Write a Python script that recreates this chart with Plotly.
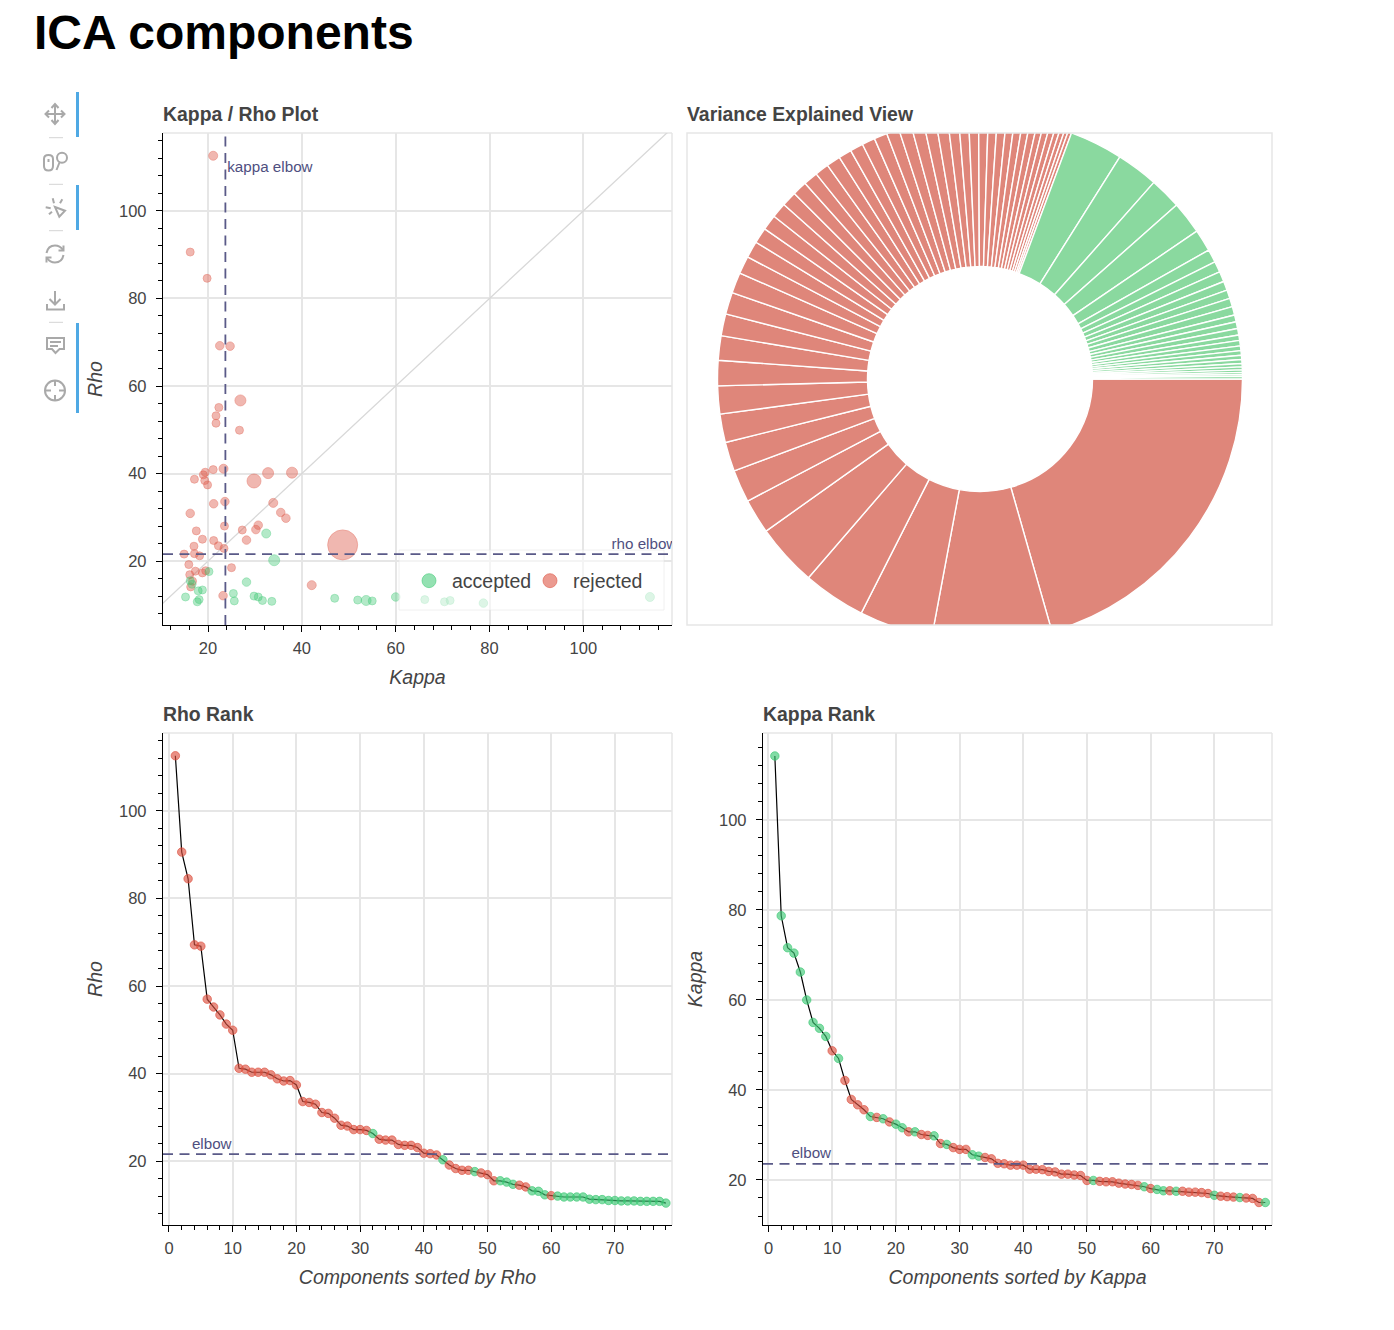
import plotly.graph_objects as go

# --- values
# Kappa / Rho scatter, rejected components
kappa_rej = [21.1, 16.2, 19.8, 22.5, 24.7, 26.9, 22.3, 21.7, 21.7, 26.7, 23.3, 21.1, 19.4, 19.0, 17.1, 19.3, 19.9,
             29.8, 32.8, 37.9, 23.6, 21.2, 33.9, 16.2, 35.5, 36.6, 23.5, 27.3, 30.7, 30.2, 17.5, 18.8, 21.2, 28.2,
             17.0, 22.2, 23.4, 48.7, 14.9, 17.1, 18.2, 15.9, 25.0, 16.1, 17.3, 18.8, 19.5, 16.7, 16.3, 42.1, 23.2]
rho_rej = [112.6, 90.6, 84.6, 69.2, 69.1, 56.7, 55.1, 53.2, 51.5, 49.9, 41.1, 40.9, 40.3, 39.7, 38.7, 38.4, 37.4,
           38.3, 40.1, 40.2, 33.6, 33.1, 33.3, 30.9, 31.1, 29.8, 28.0, 27.1, 28.2, 27.2, 26.9, 25.0, 24.7, 24.8,
           23.4, 23.5, 22.9, 23.7, 21.6, 21.7, 21.2, 19.2, 18.5, 16.9, 17.7, 17.3, 17.8, 15.4, 14.1, 14.5, 12.1]
size_rej = [9, 8, 8, 8.5, 8.5, 11, 8, 8, 8, 8, 9, 8, 8, 8, 8, 8, 8,
            14, 11, 11, 8.5, 8.5, 9, 8.5, 8.5, 8.5, 8, 8, 8.5, 8.5, 8, 8, 8, 8.5,
            8, 8, 8, 30, 8, 8, 8, 8, 8, 8, 8, 8, 8, 8, 8, 9, 8.5]

# Kappa / Rho scatter, accepted components
kappa_acc = [32.4, 34.1, 20.2, 16.2, 16.6, 28.2, 18.8, 17.9, 25.4, 15.2, 29.8, 30.7, 31.6, 25.6, 33.6, 18.1, 17.7,
             47.0, 51.9, 53.7, 55.0, 60.0, 66.2, 70.4, 71.6, 78.7, 114.2]
rho_acc = [26.3, 20.2, 17.6, 15.5, 14.7, 15.2, 13.4, 13.2, 12.6, 11.8, 12.0, 11.8, 11.0, 10.9, 10.8, 11.2, 10.7,
           11.5, 11.1, 11.0, 10.9, 11.8, 11.2, 10.7, 11.0, 10.4, 11.8]
size_acc = [9, 11, 8, 8, 8, 8.5, 8, 8, 8, 8, 8, 8, 8, 8, 8, 8, 8,
            8, 8, 10, 8, 8.5, 8, 8, 8, 8.5, 9]

kappa_elbow = 23.7
rho_elbow = 21.6

# Rank plots
rho_sorted = [112.6, 90.6, 84.5, 69.4, 69.1, 57.0, 55.2, 53.4, 51.3, 49.9, 41.2, 41.0, 40.3, 40.3, 40.3, 39.7, 38.8,
              38.3, 38.4, 37.4, 33.6, 33.4, 33.0, 31.1, 30.9, 29.8, 28.2, 28.0, 27.2, 27.2, 27.0, 26.3, 25.0, 24.8,
              24.8, 23.8, 23.6, 23.6, 23.1, 21.8, 21.7, 21.4, 20.3, 19.1, 18.3, 17.9, 17.9, 17.6, 17.3, 16.9, 15.5,
              15.5, 15.2, 14.7, 14.5, 14.1, 13.2, 13.1, 12.3, 12.1, 12.0, 11.8, 11.8, 11.8, 11.8, 11.3, 11.2, 11.2,
              11.0, 11.0, 10.9, 10.9, 10.9, 10.8, 10.8, 10.8, 10.8, 10.4]
rho_rank_accepted = [32, 43, 48, 52, 53, 54, 57, 58, 59] + list(range(61, 79))

kappa_sorted = [114.2, 78.7, 71.6, 70.4, 66.2, 60.0, 55.0, 53.7, 51.9, 48.7, 47.0, 42.1, 37.9, 36.7, 35.6, 34.1, 33.9,
                33.6, 32.9, 32.4, 31.6, 30.7, 30.7, 30.1, 29.9, 29.8, 28.1, 27.9, 27.2, 26.8, 26.8, 25.6, 25.3, 25.0,
                24.7, 23.7, 23.6, 23.3, 23.3, 23.3, 22.4, 22.4, 22.3, 21.9, 21.8, 21.3, 21.3, 21.1, 21.0, 19.9, 19.9,
                19.7, 19.6, 19.6, 19.3, 19.1, 19.0, 18.8, 18.5, 18.1, 17.9, 17.6, 17.6, 17.5, 17.5, 17.3, 17.3, 17.2,
                17.0, 16.6, 16.4, 16.3, 16.2, 16.1, 16.0, 15.9, 15.0, 15.0]
kappa_rank_accepted = list(range(1, 10)) + [11, 16, 18, 20, 21, 23, 26, 28, 32, 33, 51, 59, 61, 62, 64, 70, 74, 78]

# Variance wedges (degrees of the ring)
var_rej = [74.1, 26.5, 16.3, 13.9, 13.8, 7.7, 7.2, 6.5, 6.3, 6.2, 5.6, 5.4, 4.85, 4.85, 4.6, 3.9, 3.7, 3.5, 3.4,
           3.35, 3.35, 3.2, 3.2, 3.1, 3.1, 2.9, 2.9, 2.9, 2.9, 2.8, 2.8, 2.8, 2.7, 2.6, 2.4, 2.2, 2.2, 2.1, 2.0, 2.0,
           1.8, 1.8, 1.6, 1.6, 1.4, 1.4, 1.3, 1.1, 1.0, 0.8, 0.8]
var_acc = [11.8, 9.3, 7.0, 7.2, 4.9, 2.9, 2.4, 2.3, 2.0, 1.9, 1.9, 1.9, 1.5, 1.5, 1.45, 1.2, 1.2, 1.05, 1.0, 0.95,
           0.85, 0.75, 0.65, 0.55, 0.45, 0.4, 0.6]

# --- colours
RED = "rgba(222,92,76,0.62)"
GREEN = "rgba(60,200,115,0.55)"
RED_RANK = "rgba(220,80,62,0.64)"
GREEN_RANK = "rgba(60,200,115,0.64)"
PIE_RED = "#df867a"
PIE_GREEN = "#8ad99f"
ELBOW = "#5a5a88"
GRID = "#e6e6e6"
TEXT = "#444444"
FONT = "Liberation Sans"

W, H = 1394, 1330


def fx(px):
    return px / W


def fy(py):
    return 1 - py / H


def path(*parts):
    # parts like ("M", x, y) or ("Q", cx, cy, x, y), all in page pixels
    out = []
    for p in parts:
        if p[0] == "Z":
            out.append("Z")
            continue
        nums = []
        for i in range(1, len(p), 2):
            nums.append(f"{fx(p[i]):.5f},{fy(p[i + 1]):.5f}")
        out.append(p[0] + " " + " ".join(nums))
    return " ".join(out)


def axis(domain, rng, dtick, minor, title, standoff, anchor, label_gap):
    return dict(domain=domain, range=rng, anchor=anchor, dtick=dtick, tick0=0,
                showgrid=True, gridcolor=GRID, gridwidth=1.5, zeroline=False,
                showline=True, linecolor="black", linewidth=1.3,
                ticks="outside", ticklen=6, tickcolor="black", tickwidth=1.3,
                ticklabelstandoff=label_gap,
                minor=dict(dtick=minor, tick0=0, ticks="outside", ticklen=4, tickcolor="black",
                           tickwidth=1.2, showgrid=False),
                tickfont=dict(family=FONT, size=16.5, color=TEXT),
                title=dict(text=title, standoff=standoff,
                           font=dict(family=FONT, size=19.5, color=TEXT, style="italic")))


fig = go.Figure()

# --- Kappa / Rho scatter
fig.add_trace(go.Scatter(x=[0, 130], y=[0, 130], mode="lines", line=dict(color="#d8d8d8", width=1.3),
                         showlegend=False, hoverinfo="skip"))
fig.add_trace(go.Scatter(x=kappa_rej, y=rho_rej, mode="markers", showlegend=False,
                         marker=dict(color=RED, size=size_rej, line=dict(color=RED, width=1))))
fig.add_trace(go.Scatter(x=kappa_acc, y=rho_acc, mode="markers", showlegend=False,
                         marker=dict(color=GREEN, size=size_acc, line=dict(color=GREEN, width=1))))
fig.add_trace(go.Scatter(x=[None], y=[None], mode="markers", name="accepted",
                         marker=dict(color=GREEN, size=14, line=dict(color=GREEN, width=1))))
fig.add_trace(go.Scatter(x=[None], y=[None], mode="markers", name="rejected",
                         marker=dict(color=RED, size=14, line=dict(color=RED, width=1))))

# --- Variance ring
fig.add_trace(go.Pie(values=var_rej + var_acc, sort=False, direction="clockwise", rotation=90, hole=112.5 / 262.5,
                     textinfo="none", showlegend=False,
                     marker=dict(colors=[PIE_RED] * len(var_rej) + [PIE_GREEN] * len(var_acc),
                                 line=dict(color="white", width=1.4)),
                     domain=dict(x=[fx(717.5), fx(1242.5)], y=[fy(641.5), fy(116.5)])))

# --- Rank plots
ranks = list(range(1, len(rho_sorted) + 1))
fig.add_trace(go.Scatter(x=ranks, y=rho_sorted, mode="lines+markers", xaxis="x2", yaxis="y2", showlegend=False,
                         line=dict(color="black", width=1.2),
                         marker=dict(size=8.5, color=[GREEN_RANK if r in rho_rank_accepted else RED_RANK for r in ranks],
                                     line=dict(width=1, color=[GREEN_RANK if r in rho_rank_accepted else RED_RANK for r in ranks]))))
fig.add_trace(go.Scatter(x=ranks, y=kappa_sorted, mode="lines+markers", xaxis="x3", yaxis="y3", showlegend=False,
                         line=dict(color="black", width=1.2),
                         marker=dict(size=8.5, color=[GREEN_RANK if r in kappa_rank_accepted else RED_RANK for r in ranks],
                                     line=dict(width=1, color=[GREEN_RANK if r in kappa_rank_accepted else RED_RANK for r in ranks]))))

# --- Elbow labels, as text traces so that they clip at the frame
label_font = dict(family=FONT, size=15.2, color="#4f4f7f")
fig.add_trace(go.Scatter(x=[kappa_elbow + 0.4], y=[109.7], mode="text", text=["kappa elbow"], textposition="middle right",
                         textfont=label_font, showlegend=False, hoverinfo="skip"))
fig.add_trace(go.Scatter(x=[106.0], y=[21.9], mode="text", text=["rho elbow"], textposition="top right",
                         textfont=label_font, showlegend=False, hoverinfo="skip"))
fig.add_trace(go.Scatter(x=[3.6], y=[22.0], mode="text", text=["elbow"], textposition="top right", xaxis="x2", yaxis="y2",
                         textfont=label_font, showlegend=False, hoverinfo="skip"))
fig.add_trace(go.Scatter(x=[3.6], y=[24.0], mode="text", text=["elbow"], textposition="top right", xaxis="x3", yaxis="y3",
                         textfont=label_font, showlegend=False, hoverinfo="skip"))

fig.update_layout(
    width=W, height=H, margin=dict(l=0, r=0, t=0, b=0), autosize=False,
    paper_bgcolor="white", plot_bgcolor="white",
    xaxis=axis([fx(163), fx(672)], [10.4, 118.9], 20, 4, "Kappa", 14, "y", 2),
    yaxis=axis([fy(625), fy(133)], [5.4, 117.8], 20, 4, "Rho", 11, "x", 6),
    xaxis2=axis([fx(163), fx(672)], [-0.94, 78.96], 10, 2, "Components sorted by Rho", 14, "y2", 2),
    yaxis2=axis([fy(1225), fy(733)], [5.4, 117.8], 20, 4, "Rho", 11, "x2", 6),
    xaxis3=axis([fx(763), fx(1272)], [-0.86, 79.05], 10, 2, "Components sorted by Kappa", 14, "y3", 2),
    yaxis3=axis([fy(1225), fy(733)], [10.0, 119.3], 20, 4, "Kappa", 11, "x3", 6),
    legend=dict(orientation="h", x=fx(406), y=fy(581), xanchor="left", yanchor="middle", bgcolor="rgba(0,0,0,0)",
                font=dict(family=FONT, size=19.5, color=TEXT), itemwidth=36, entrywidth=70, entrywidthmode="pixels"),
)

# --- Frames, masks, legend box
shapes = []
for x0, x1, y0, y1 in [(163, 672, 133, 625), (163, 672, 733, 1225), (763, 1272, 733, 1225)]:
    shapes.append(dict(type="line", xref="paper", yref="paper", x0=fx(x0), x1=fx(x1), y0=fy(y0), y1=fy(y0),
                       line=dict(color=GRID, width=1.5), layer="below"))
    shapes.append(dict(type="line", xref="paper", yref="paper", x0=fx(x1), x1=fx(x1), y0=fy(y0), y1=fy(y1),
                       line=dict(color=GRID, width=1.5), layer="below"))
# the ring is cut off by its frame
for y0, y1 in [(110, 133), (625, 648)]:
    shapes.append(dict(type="rect", xref="paper", yref="paper", x0=fx(690), x1=fx(1270), y0=fy(y0), y1=fy(y1),
                       fillcolor="white", line=dict(width=0), layer="above"))
shapes.append(dict(type="rect", xref="paper", yref="paper", x0=fx(687), x1=fx(1272), y0=fy(133), y1=fy(625),
                   line=dict(color=GRID, width=1.5), layer="above"))
shapes.append(dict(type="rect", xref="paper", yref="paper", x0=fx(399), x1=fx(664), y0=fy(550), y1=fy(610),
                   fillcolor="rgba(255,255,255,0.55)", line=dict(color="rgba(230,230,230,0.6)", width=1), layer="above"))

# --- Elbow lines
dash = "10px,6.5px"
for xa, ya, y in [("x", "y", rho_elbow), ("x2", "y2", rho_elbow), ("x3", "y3", kappa_sorted[35] - 0.1)]:
    shapes.append(dict(type="line", xref=xa + " domain", yref=ya, x0=0, x1=1, y0=y, y1=y,
                       line=dict(color=ELBOW, width=1.8, dash=dash), layer="above"))
shapes.append(dict(type="line", xref="x", yref="y domain", x0=kappa_elbow, x1=kappa_elbow, y0=0, y1=1,
                   line=dict(color=ELBOW, width=1.8, dash=dash), layer="above"))

# --- Toolbar
for y0, y1 in [(92, 137), (185, 230), (323, 413)]:
    shapes.append(dict(type="line", xref="paper", yref="paper", x0=fx(77.5), x1=fx(77.5), y0=fy(y0), y1=fy(y1),
                       line=dict(color="#4fa9e4", width=3)))
for y in [137.7, 184.3, 230.7, 322.3]:
    shapes.append(dict(type="line", xref="paper", yref="paper", x0=fx(49), x1=fx(63), y0=fy(y), y1=fy(y),
                       line=dict(color="#d4d4d4", width=1)))

ICON = dict(color="#a9a9a9", width=2)
icons = [
    # pan
    path(("M", 46, 114), ("L", 64, 114)), path(("M", 55, 105), ("L", 55, 123)),
    path(("M", 49, 110.5), ("L", 45.5, 114), ("L", 49, 117.5)), path(("M", 61, 110.5), ("L", 64.5, 114), ("L", 61, 117.5)),
    path(("M", 51.5, 108), ("L", 55, 104), ("L", 58.5, 108)), path(("M", 51.5, 120), ("L", 55, 124), ("L", 58.5, 120)),
    # wheel zoom
    path(("M", 44, 159), ("Q", 44, 155, 48.5, 155), ("Q", 53, 155, 53, 159), ("L", 53, 166),
         ("Q", 53, 170.5, 48.5, 170.5), ("Q", 44, 170.5, 44, 166), ("Z",)),
    path(("M", 48.5, 159), ("L", 48.5, 162)),
    path(("M", 59.5, 162.5), ("L", 56.5, 170)),
    # tap
    path(("M", 55, 207), ("L", 65, 210.7), ("L", 59.3, 216.7), ("Z",)),
    path(("M", 52.7, 198.3), ("L", 54, 203.3)), path(("M", 62.3, 199.3), ("L", 60, 203.3)),
    path(("M", 45.7, 207.3), ("L", 50.7, 208.3)), path(("M", 49, 214.3), ("L", 52, 211.7)),
    # reset
    path(("M", 46.5, 253), ("Q", 48, 245.5, 55, 245.5), ("Q", 60, 245.5, 63, 250)),
    path(("M", 63.5, 245.5), ("L", 63.5, 250.5), ("L", 58.5, 250.5)),
    path(("M", 63.5, 255), ("Q", 62, 262.5, 55, 262.5), ("Q", 50, 262.5, 47, 258)),
    path(("M", 46.5, 262.5), ("L", 46.5, 257.5), ("L", 51.5, 257.5)),
    # save
    path(("M", 55, 291), ("L", 55, 304)), path(("M", 49.5, 299), ("L", 55, 304.5), ("L", 60.5, 299)),
    path(("M", 47, 304), ("L", 47, 309.5), ("L", 64, 309.5), ("L", 64, 304)),
    # comment
    path(("M", 47, 338), ("L", 64, 338), ("L", 64, 349), ("L", 59.5, 349), ("L", 55.5, 353), ("L", 52, 349), ("L", 47, 349), ("Z",)),
    path(("M", 50, 342), ("L", 61, 342)), path(("M", 50, 346), ("L", 58, 346)),
    # crosshair
    path(("M", 55, 380), ("L", 55, 386)), path(("M", 55, 395), ("L", 55, 401)),
    path(("M", 45, 390.5), ("L", 51, 390.5)), path(("M", 59, 390.5), ("L", 65, 390.5)),
]
for d in icons:
    shapes.append(dict(type="path", xref="paper", yref="paper", path=d, line=ICON))
# magnifier and crosshair rings
for cx, cy, r in [(62, 157.7, 5), (55, 390.5, 10)]:
    shapes.append(dict(type="circle", xref="paper", yref="paper", x0=fx(cx - r), x1=fx(cx + r), y0=fy(cy - r), y1=fy(cy + r),
                       line=ICON))
fig.update_layout(shapes=shapes)

# --- Titles
for text, x, y in [("Kappa / Rho Plot", 162, 114), ("Variance Explained View", 686, 114),
                   ("Rho Rank", 162, 714), ("Kappa Rank", 762, 714)]:
    fig.add_annotation(text=f"<b>{text}</b>", xref="paper", yref="paper", x=fx(x), y=fy(y), xanchor="left", yanchor="middle",
                       showarrow=False, borderpad=0, font=dict(family=FONT, size=19.4, color=TEXT))
fig.add_annotation(text="<b>ICA components</b>", xref="paper", yref="paper", x=fx(33), y=fy(32), xanchor="left",
                   yanchor="middle", showarrow=False, borderpad=0, font=dict(family=FONT, size=48, color="black"))

# drop the default body margin so the figure fills the window, no plotly modebar
fig.write_html("out.html", config=dict(displayModeBar=False), post_script="document.body.style.margin='0';")
